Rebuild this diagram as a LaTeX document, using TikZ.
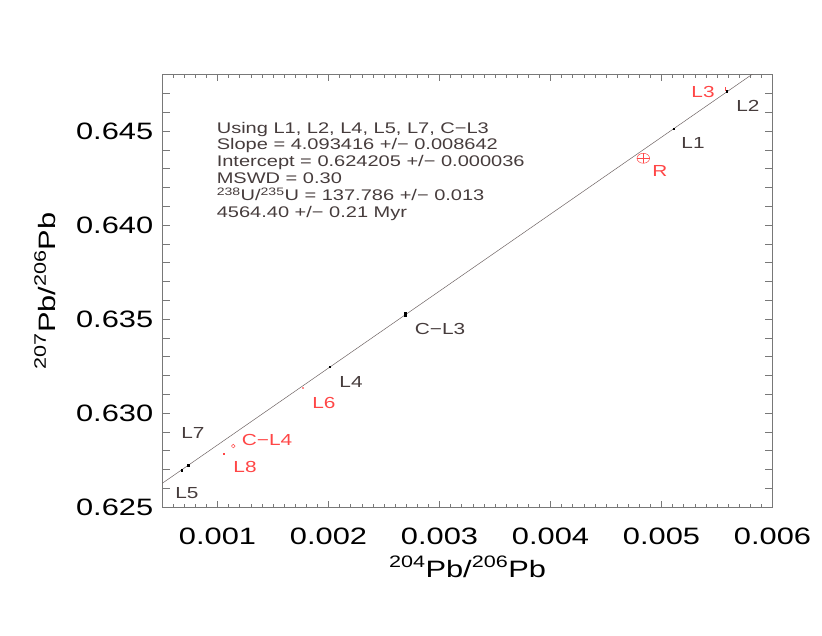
\documentclass[tikz,border=0pt]{standalone}
\usepackage{fontspec}
\newfontfamily\idlfont[FakeStretch=1.3]{Liberation Sans}
\usetikzlibrary{positioning}
\definecolor{labelgray}{RGB}{70,60,60}
\definecolor{axisgray}{RGB}{120,120,120}
\definecolor{fitgray}{RGB}{110,100,100}
\definecolor{idlred}{RGB}{255,70,70}
\begin{document}
\begin{tikzpicture}
  [
  x=1pt, y=-1pt, font=\idlfont, line width=0.6pt,
  ticklabel/.style={font=\idlfont\fontsize{23.7}{28}\selectfont, text=black, inner sep=0pt},
  pointlabel/.style={font=\idlfont\fontsize{16}{19}\selectfont, text=labelgray, inner sep=0pt},
  redlabel/.style={pointlabel, text=idlred},
  blackpt/.style={rectangle, fill=black, minimum size=2.2pt, inner sep=0pt},
  redpt/.style={rectangle, fill=idlred, minimum size=2pt, inner sep=0pt},
  infoline/.style={font=\idlfont\fontsize{15.4}{17}\selectfont, text=labelgray, anchor=base west, inner sep=0pt}
  ]
\useasboundingbox (0,0) rectangle (822,635);

% data frame: x in units of 0.001, y in units of 0.001 above 0.625
\begin{scope}[shift={(106.5,507)}, x=111pt, y=18.8pt]
  \draw[axisgray] (0.5,0) rectangle (6,23);
  \foreach \i in {6,...,59} {
    \draw[axisgray] (\i/10,0) -- ++(0,3pt);
    \draw[axisgray] (\i/10,23) -- ++(0,-3pt);
  }
  \foreach \t in {1,...,6} {
    \draw[axisgray] (\t,0) -- ++(0,6pt);
    \draw[axisgray] (\t,23) -- ++(0,-6pt);
    \node[ticklabel] (xt\t) at ([yshift=-29.7pt]\t,0) {0.00\t};
  }
  \foreach \y in {1,...,22} {
    \draw[axisgray] (0.5,\y) -- ++(7.5pt,0);
    \draw[axisgray] (6,\y) -- ++(-7.5pt,0);
  }
  \foreach \v/\lab in {0/0.625,5/0.630,10/0.635,15/0.640,20/0.645} {
    \node[ticklabel, anchor=east] (yt\v) at ([xshift=-8.5pt]0.5,\v) {\lab};
  }

  % fitted line
  \coordinate (fitA) at (0.5,{-0.795+4.093416*0.5});
  \coordinate (fitB) at (6,{-0.795+4.093416*6});
  \begin{scope}
    \clip (0.5,0) rectangle (6,23);
    \draw[fitgray, line width=0.5pt] (fitA) -- (fitB);
  \end{scope}

  % points
  \node[blackpt] (ptL2) at (5.593,22.10) {};
  \node[redpt, minimum width=1.4pt, minimum height=4pt] (ptL3) at (5.578,22.25) {};
  \node[blackpt] (ptL1) at (5.113,20.10) {};
  \coordinate (ptR) at (4.836,18.55);
  \draw[idlred, line width=0.5pt] (ptR) ellipse [x radius=6.3pt, y radius=5pt];
  \draw[idlred, line width=0.5pt] ([xshift=-6.3pt]ptR) -- ([xshift=6.3pt]ptR);
  \draw[idlred, line width=0.5pt] ([yshift=-5pt]ptR) -- ([yshift=5pt]ptR);
  \node[blackpt, minimum width=2.6pt, minimum height=5pt] (ptCL3) at (2.695,10.22) {};
  \node[blackpt] (ptL4) at (2.014,7.45) {};
  \node[redpt, fill=idlred!60] (ptL6) at (1.768,6.31) {};
  \draw[idlred, line width=0.5pt] (1.142,3.24) circle [radius=1.8pt];
  \coordinate (ptCL4) at (1.142,3.24);
  \node[redpt] (ptL8) at (1.061,2.80) {};
  \node[blackpt, minimum size=3.2pt] (ptL7) at (0.737,2.20) {};
  \node[blackpt, minimum size=2.2pt] (ptL5) at (0.680,1.94) {};

  % point labels
  \node[redlabel] (lblL3) at (5.374,22.07) {L3};
  \node[pointlabel] (lblL2) at (5.779,21.33) {L2};
  \node[pointlabel] (lblL1) at (5.284,19.36) {L1};
  \node[redlabel] (lblR) at (4.986,17.87) {R};
  \node[pointlabel] (lblCL3) at (3.005,9.47) {C−L3};
  \node[pointlabel] (lblL4) at (2.203,6.65) {L4};
  \node[redlabel] (lblL6) at (1.959,5.53) {L6};
  \node[redlabel] (lblCL4) at (1.446,3.56) {C−L4};
  \node[redlabel] (lblL8) at (1.248,2.13) {L8};
  \node[pointlabel] (lblL7) at (0.779,3.94) {L7};
  \node[pointlabel] (lblL5) at (0.725,0.745) {L5};
\end{scope}

% axis titles
\node[ticklabel, anchor=base] (xtitle) at (467.5,577) {\textsuperscript{204}Pb/\textsuperscript{206}Pb};
\node[ticklabel, anchor=base, rotate=90] (ytitle) at (55,291) {\textsuperscript{207}Pb/\textsuperscript{206}Pb};

% fit summary
\foreach \txt [count=\i] in {{Using L1, L2, L4, L5, L7, C−L3},
  {Slope = 4.093416 +/− 0.008642},
  {Intercept = 0.624205 +/− 0.000036},
  {MSWD = 0.30},
  {\textsuperscript{238}U/\textsuperscript{235}U = 137.786 +/− 0.013},
  {4564.40 +/− 0.21 Myr}} {
  \node[infoline] (info\i) at (216.5,{116.3+16.8*\i}) {\txt};
}
\end{tikzpicture}
\end{document}
